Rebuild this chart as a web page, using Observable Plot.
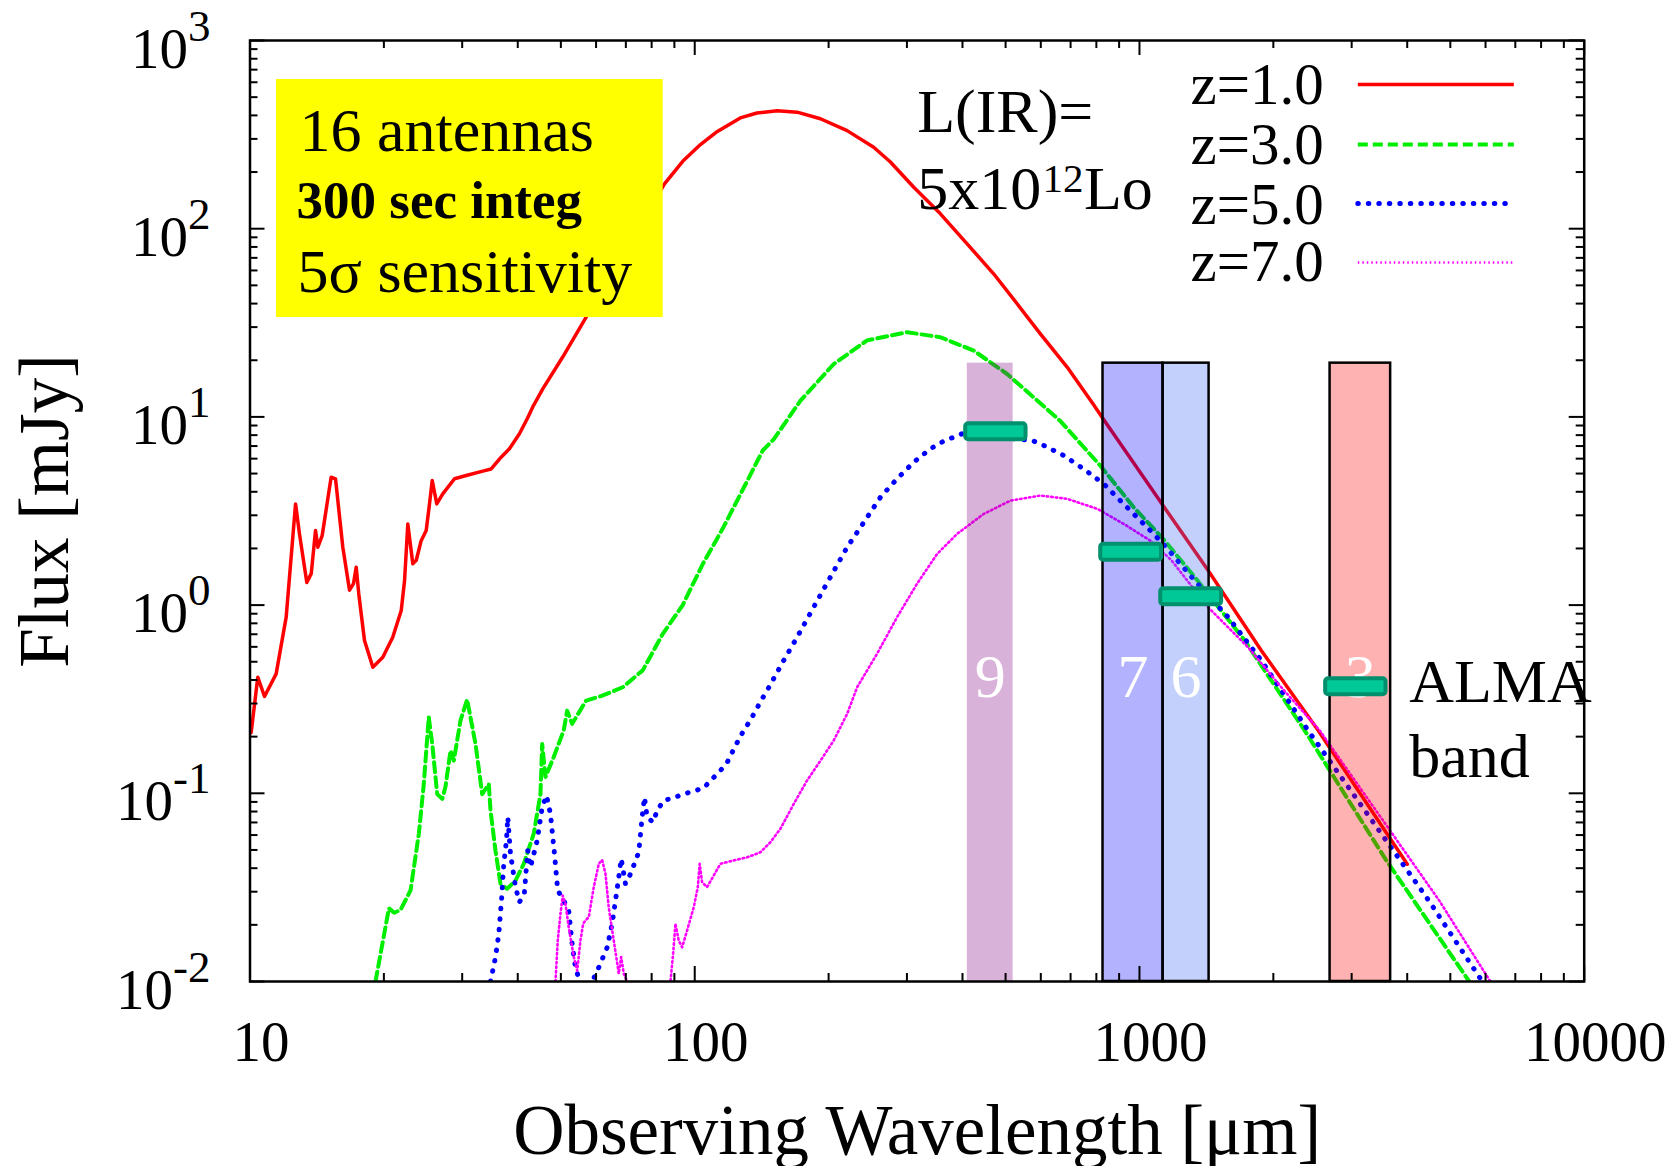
<!DOCTYPE html>
<html><head><meta charset="utf-8">
<script src="https://cdn.jsdelivr.net/npm/d3@7"></script>
<script src="https://cdn.jsdelivr.net/npm/@observablehq/plot@0.6"></script>
<style>html,body{margin:0;padding:0;background:#fff;overflow:hidden}</style>
</head><body><div id="chart"></div>
<script>
// ---------------- data ----------------
const seriesNames = ["z=1.0", "z=3.0", "z=5.0", "z=7.0"];

const z1Wave = [10.06,10.41,10.78,11.45,12.06,12.66,12.92,13.42,13.73,14.04,14.21,14.53,15.22,15.57,16.17,16.74,17.09,17.33,17.56,18.09,18.89,19.89,20.94,21.88,22.26,22.64,23.23,23.65,24.26,24.90,25.33,25.69,26.30,27.13,28.83,30.62,33.38,34.86,36.70,38.31,40.35,42.12,43.23,45.53,50.48,57.00,85.5,93.97,103.0,111.7,126.6,138.0,153.2,169.9,191.7,220.1,252.6,275.4,310.8,356.8,409.7,470.0,530.7,598.7,687.5,788.8,828.3,906.0,1130,1426,1879,2521,4002];
const z1Flux = [0.21,0.414,0.327,0.431,0.863,3.45,2.39,1.32,1.47,2.49,2.03,2.34,4.78,4.69,2.03,1.20,1.30,1.59,1.15,0.649,0.468,0.528,0.675,0.936,1.35,2.70,1.66,1.73,2.20,2.49,3.45,4.59,3.45,3.90,4.69,4.88,5.15,5.29,6.11,6.77,8.13,9.9,11.3,14.1,20.8,33.9,173,228,280,325,388,412,423,416,384,332,271,226,166,120,83.1,57.6,39.9,27.6,18.4,11.6,9.77,7.2,3.38,1.53,0.574,0.216,0.042];

const z3Wave = [19.15,20.53,21.10,21.80,22.96,23.97,24.59,25.23,25.69,26.36,27.05,27.51,28.24,28.72,29.74,30.78,32.14,33.27,34.43,34.74,35.64,36.58,37.86,39.54,41.27,43.45,44.99,45.39,46.17,48.19,50.75,51.65,53.01,57.00,62.12,68.88,76.39,84.75,93.97,104.2,115.6,128.2,142.2,150.5,172.9,205.4,244.1,300.3,356.8,424.0,503.9,578.3,664.0,816.8,970.5,1130,1331,1724,2351,3589,5515];
const z3Flux = [0.0100,0.0245,0.0232,0.024,0.0305,0.061,0.112,0.254,0.183,0.099,0.0935,0.108,0.169,0.149,0.244,0.315,0.183,0.099,0.112,0.081,0.0497,0.033,0.0311,0.0344,0.0422,0.061,0.099,0.183,0.122,0.156,0.216,0.275,0.234,0.311,0.331,0.366,0.45,0.703,1.0,1.65,2.55,4.1,6.63,7.6,12.2,19.1,25.5,28.2,26.5,22.5,16.9,12.7,9.5,5.5,3.31,2.25,1.41,0.649,0.216,0.044,0.0100];

const z5Wave = [34.74,35.65,36.26,36.77,37.21,37.73,37.99,38.52,39.54,40.36,41.41,42.12,42.72,44.23,45.39,46.41,47.38,48.37,49.20,50.75,52.08,53.01,53.92,55.14,56.75,58.82,60.85,63.56,65.22,66.34,67.48,68.33,69.87,71.70,74.84,76.16,77.08,78.16,80.63,82.32,85.17,89.70,94.47,99.49,104.8,109.4,114.2,118.3,121.4,125.0,128.9,133.0,136.9,141.0,145.5,158.5,169.9,185.1,201.9,220.1,235.9,261.5,285.1,310.8,338.8,362.9,399.1,573.6,609.1,675.3,749.2,830.8,906.0,987.6,1058,1133,1331,1582,1879,2393,4473,5900];
const z5Flux = [0.0100,0.0135,0.0179,0.0269,0.0422,0.0561,0.0746,0.0477,0.0317,0.0264,0.0298,0.0497,0.0405,0.0561,0.0843,0.0973,0.0778,0.0477,0.0305,0.0269,0.0238,0.0158,0.0119,0.0100,0.0085,0.0100,0.0119,0.0152,0.0203,0.0269,0.0358,0.0449,0.033,0.0373,0.0486,0.0746,0.0953,0.0746,0.0702,0.081,0.0916,0.0946,0.0993,0.1026,0.107,0.119,0.132,0.146,0.165,0.189,0.216,0.242,0.273,0.311,0.352,0.508,0.675,0.975,1.41,2.03,2.59,3.74,4.69,5.75,6.77,7.43,8.13,7.5,7.05,6.24,5.29,4.41,3.59,2.93,2.49,2.10,1.35,0.863,0.508,0.216,0.0269,0.0100];

const z7Wave = [48.63,49.20,49.90,50.48,51.20,52.08,53.46,54.41,55.34,56.13,56.80,57.78,59.29,60.85,61.92,63.00,64.07,65.76,67.48,68.33,69.26,70.47,79.4,88.19,89.41,90.49,92.04,93.69,96.14,99.49,101.6,102.6,103.9,106.6,114.2,122.4,131.2,140.5,148.0,155.8,167.0,178.9,191.7,205.4,220.1,231.8,257.0,285.1,316.2,350.8,388.9,446.4,512.6,598.7,687.5,803.1,921.6,1058,1180,1426,1754,2084,2542,4722,6152];
const z7Flux = [0.0100,0.0165,0.0229,0.0286,0.0259,0.0194,0.0135,0.0114,0.0165,0.0203,0.0211,0.022,0.0317,0.0422,0.0443,0.0373,0.0248,0.0165,0.011,0.0135,0.011,0.0100,0.006,0.0100,0.014,0.0203,0.0165,0.0152,0.0187,0.0248,0.0317,0.0422,0.0337,0.0317,0.0422,0.0440,0.0457,0.0486,0.055,0.0648,0.0879,0.117,0.149,0.191,0.264,0.366,0.551,0.863,1.30,1.87,2.39,3.05,3.59,3.82,3.67,3.25,2.70,2.20,1.73,0.975,0.597,0.366,0.216,0.0269,0.0100];

// ALMA bands (wavelength range in micron)
const bandNames = ["9", "7", "6", "3"];
const bandLo = [410, 828, 1130, 2683];
const bandHi = [520, 1130, 1434, 3671];
const bandTopFlux = 19.3;

// 5-sigma sensitivity markers
const sensLo = [402.5, 809.7, 1105, 2595];
const sensHi = [561.6, 1133, 1546, 3622];
const sensFlux = [8.34, 1.91, 1.107, 0.368];

// axes
const xMajorTicks = [10, 100, 1000, 10000];
const xTickLabels = ["10", "100", "1000", "10000"];
const yMajorTicks = [0.01, 0.1, 1, 10, 100, 1000];
const yTickExp = ["-2", "-1", "0", "1", "2", "3"];

// ---------------- styles / layout ----------------
const W = 1679, H = 1166;
const M = {left: 249.5, right: 95.3, top: 40, bottom: 185};
const frameW = W - M.left - M.right, frameH = H - M.top - M.bottom;
const serif = "'Liberation Serif','Times New Roman',Times,serif";

const lineStyles = {
  "z=1.0": {stroke: "#ff0000", strokeWidth: 3.5},
  "z=3.0": {stroke: "#00ee00", strokeWidth: 4, strokeDasharray: "10 5"},
  "z=5.0": {stroke: "#0000ff", strokeWidth: 5, strokeDasharray: "0.5 10", strokeLinecap: "round"},
  "z=7.0": {stroke: "#ff00ff", strokeWidth: 2.6, strokeDasharray: "1.5 3"}
};
const bandFill = {"9": "#800080", "7": "#0000ff", "6": "#3a62f5", "3": "#ff0000"};
const bandOutlined = {"9": false, "7": true, "6": true, "3": true};

// legend placement (data units for sample lines, px offsets for text)
const legendFlux = [583, 280, 136, 66.1];
const legendWave = [3105, 6965];
const legendTextDy = [63, 123, 183, 240];

// ---------------- tables ----------------
const seriesData = [[z1Wave, z1Flux], [z3Wave, z3Flux], [z5Wave, z5Flux], [z7Wave, z7Flux]];
const curveRows = seriesNames.flatMap((z, k) => seriesData[k][0].map((w, i) => ({z, wave: w, flux: seriesData[k][1][i]})));
const bandRows = bandNames.map((name, i) => ({name, lo: bandLo[i], hi: bandHi[i]}));
const sensRows = sensFlux.map((f, i) => ({lo: sensLo[i], hi: sensHi[i], flux: f}));
const yTickRows = yMajorTicks.map((v, i) => ({v, label: "10^" + yTickExp[i]}));
const xTickRows = xMajorTicks.map((v, i) => ({v, label: xTickLabels[i]}));
const xMinorTicks = [], yMinorTicks = [];
for (const d of [10, 100, 1000]) for (let m = 2; m <= 9; m++) xMinorTicks.push(d * m);
for (const d of [0.01, 0.1, 1, 10, 100]) for (let m = 2; m <= 9; m++) yMinorTicks.push(+(d * m).toPrecision(3));

const tickStyle = {stroke: "#000", strokeWidth: 2};

const marks = [];
// curves
seriesNames.forEach(z => {
  marks.push(Plot.line(curveRows.filter(r => r.z === z), {x: "wave", y: "flux", clip: true, ...lineStyles[z]}));
});
// ALMA bands (translucent, over the curves)
marks.push(Plot.rect(bandRows, {x1: "lo", x2: "hi", y1: 0.01, y2: bandTopFlux, fill: d => bandFill[d.name], fillOpacity: 0.3}));
marks.push(Plot.rect(bandRows.filter(d => bandOutlined[d.name]), {x1: "lo", x2: "hi", y1: 0.01, y2: bandTopFlux, fill: "none", stroke: "#000", strokeWidth: 2.5}));
marks.push(Plot.text(bandRows, {x: d => Math.sqrt(d.lo * d.hi), y: 0.323, text: "name", fill: "#fff", fontSize: 62, fontFamily: serif, lineAnchor: "bottom"}));
// sensitivity markers
marks.push(Plot.rect(sensRows, {x1: "lo", x2: "hi", y1: "flux", y2: "flux", insetTop: -8, insetBottom: -8, insetLeft: 2, insetRight: 2, fill: "#00c896", stroke: "#00906e", strokeWidth: 4, rx: 3}));
// frame and inward ticks
marks.push(Plot.frame({stroke: "#000", strokeWidth: 2.5}));
marks.push(Plot.tickX(xMajorTicks, {x: d => d, insetTop: frameH - 15, ...tickStyle}));
marks.push(Plot.tickX(xMajorTicks, {x: d => d, insetBottom: frameH - 15, ...tickStyle}));
marks.push(Plot.tickX(xMinorTicks, {x: d => d, insetTop: frameH - 8, ...tickStyle}));
marks.push(Plot.tickX(xMinorTicks, {x: d => d, insetBottom: frameH - 8, ...tickStyle}));
marks.push(Plot.tickY(yMajorTicks, {y: d => d, insetRight: frameW - 15, ...tickStyle}));
marks.push(Plot.tickY(yMajorTicks, {y: d => d, insetLeft: frameW - 15, ...tickStyle}));
marks.push(Plot.tickY(yMinorTicks, {y: d => d, insetRight: frameW - 8, ...tickStyle}));
marks.push(Plot.tickY(yMinorTicks, {y: d => d, insetLeft: frameW - 8, ...tickStyle}));
// yellow info box
marks.push(Plot.rect([0], {insetLeft: 26.5, insetRight: 921, insetTop: 39, insetBottom: 664, fill: "#ffff00"}));
const tl = {frameAnchor: "top-left", textAnchor: "start", lineAnchor: "bottom", fontFamily: serif, fill: "#000"};
marks.push(Plot.text(["16 antennas"], {...tl, dx: 49.5, dy: 110, fontSize: 62}));
marks.push(Plot.text(["300 sec integ"], {...tl, dx: 46.5, dy: 177, fontSize: 53, fontWeight: "bold"}));
marks.push(Plot.text(["5σ sensitivity"], {...tl, dx: 47.5, dy: 251.5, fontSize: 62}));
// luminosity note
marks.push(Plot.text(["L(IR)="], {...tl, dx: 667.2, dy: 91.7, fontSize: 62}));
marks.push(Plot.text(["5x10"], {...tl, dx: 667.2, dy: 168.3, fontSize: 62}));
marks.push(Plot.text(["12"], {...tl, dx: 792.5, dy: 151.3, fontSize: 41}));
marks.push(Plot.text(["Lo"], {...tl, dx: 834, dy: 168.3, fontSize: 62}));
// legend
seriesNames.forEach((z, i) => {
  marks.push(Plot.text([z], {...tl, dx: 940.5, dy: legendTextDy[i], fontSize: 59}));
  marks.push(Plot.ruleY([legendFlux[i]], {x1: legendWave[0], x2: legendWave[1], ...lineStyles[z]}));
});
// ALMA band label
marks.push(Plot.text(["ALMA"], {...tl, dx: 1159.2, dy: 661.7, fontSize: 62}));
marks.push(Plot.text(["band"], {...tl, dx: 1159.2, dy: 736.7, fontSize: 62}));
// tick labels
marks.push(Plot.text(xTickRows, {x: "v", text: "label", frameAnchor: "bottom", dy: 79, dx: 11, lineAnchor: "bottom", fontSize: 57, fontFamily: serif, fill: "#000"}));
marks.push(Plot.text(yTickRows, {y: "v", text: "label", frameAnchor: "left", textAnchor: "end", dx: -39.5, dy: 27, lineAnchor: "bottom", fontSize: 57, fontFamily: serif, fill: "#000"}));
// axis titles
marks.push(Plot.text(["Observing Wavelength [μm]"], {frameAnchor: "bottom", dy: 172, lineAnchor: "bottom", fontSize: 71, fontFamily: serif, fill: "#000"}));
marks.push(Plot.text(["Flux [mJy]"], {frameAnchor: "left", dx: -182.5, rotate: -90, lineAnchor: "bottom", textAnchor: "middle", fontSize: 71, fontFamily: serif, fill: "#000"}));

const chart = Plot.plot({
  width: W, height: H,
  marginLeft: M.left, marginRight: M.right, marginTop: M.top, marginBottom: M.bottom,
  x: {type: "log", domain: [10, 10000], axis: null},
  y: {type: "log", domain: [0.01, 1000], axis: null},
  style: {fontFamily: serif, background: "#fff", overflow: "visible"},
  marks
});

// turn "10^exp" tick labels into real superscripts
const NS = "http://www.w3.org/2000/svg";
chart.querySelectorAll("text").forEach(t => {
  const s = t.textContent;
  if (!s.startsWith("10^")) return;
  const parts = s.split("^");
  t.textContent = parts[0];
  const sp = document.createElementNS(NS, "tspan");
  sp.setAttribute("dy", -27);
  sp.setAttribute("font-size", 45);
  sp.textContent = parts[1];
  t.appendChild(sp);
});

document.getElementById("chart").appendChild(chart);
</script></body></html>
